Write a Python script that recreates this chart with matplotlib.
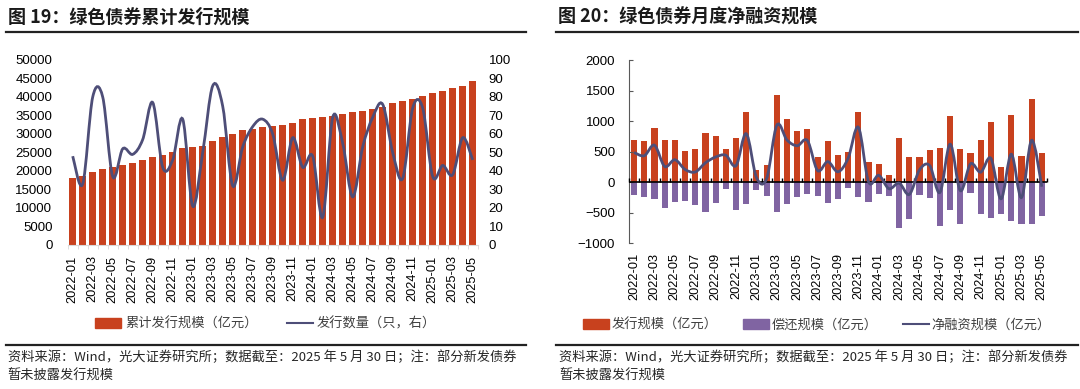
import matplotlib
matplotlib.use('Agg')
import matplotlib.pyplot as plt
import numpy as np
import pandas as pd
from matplotlib.path import Path
from matplotlib.patches import PathPatch, Patch
from matplotlib.lines import Line2D

plt.rcParams['font.family'] = ['Liberation Sans', 'Noto Sans CJK SC']
CJK = ['Noto Sans CJK SC', 'DejaVu Sans']

RED = '#C8411E'
PURPLE = '#8064A2'
LINE = '#4E4E78'

months = [p.strftime('%Y-%m') for p in pd.period_range('2022-01', '2025-05', freq='M')]

# 图19: 累计发行规模(亿元) / 发行数量(只)
cum_issue = [18200, 18600, 19800, 20500, 21000, 21500, 22200, 23000, 23800, 24300,
             25000, 26300, 26500, 26800, 28200, 29200, 30100, 31000, 31300, 32000,
             32200, 32300, 32900, 34000, 34300, 34600, 34800, 35400, 35900, 36200,
             36800, 37300, 38500, 39000, 39500, 40300, 41200, 41500, 42400, 43100, 44400]
issue_count = [48, 33, 80, 80, 37, 52, 49, 57, 77, 42, 46, 68, 21, 50, 86, 75, 32, 53, 64, 68,
               60, 35, 58, 42, 48, 15, 69, 55, 26, 53, 69, 76, 50, 36, 74, 74, 37, 43, 38, 58, 46]

# 图20: 发行 / 偿还 / 净融资(亿元)
issue = [695, 675, 885, 685, 685, 510, 540, 800, 752, 550, 725, 1150, 205, 288, 1425, 1040,
         832, 870, 418, 678, 445, 492, 1142, 323, 301, 118, 728, 408, 418, 524, 557, 1077,
         549, 476, 686, 981, 254, 1098, 437, 1366, 476]
repay = [-208, -241, -279, -427, -317, -301, -372, -482, -339, -109, -454, -356, -126, -230,
         -493, -350, -235, -188, -227, -341, -274, -99, -243, -317, -188, -224, -743, -607,
         -215, -252, -724, -454, -686, -175, -522, -590, -525, -640, -688, -680, -550]
net = [487, 434, 606, 258, 368, 209, 168, 318, 413, 441, 271, 794, 79, 58, 932, 690, 597,
       682, 191, 337, 171, 393, 899, 6, 113, -106, -15, -199, 203, 272, -167, 623, -137, 301,
       164, 391, -271, 458, -251, 686, -74]


def smooth_line(xs, ys, **kw):
    # excel style smoothed line (bezier through every point)
    n = len(xs)
    verts = [(xs[0], ys[0])]
    codes = [Path.MOVETO]
    for i in range(n - 1):
        a = max(i - 1, 0)
        b = min(i + 2, n - 1)
        c1 = (xs[i] + (xs[i + 1] - xs[a]) / 6, ys[i] + (ys[i + 1] - ys[a]) / 6)
        c2 = (xs[i + 1] - (xs[b] - xs[i]) / 6, ys[i + 1] - (ys[b] - ys[i]) / 6)
        verts += [c1, c2, (xs[i + 1], ys[i + 1])]
        codes += [Path.CURVE4] * 3
    return PathPatch(Path(verts, codes), fill=False, **kw)


fig = plt.figure(figsize=(10.8, 3.89), dpi=100)
x = np.arange(len(months))

# ---- left chart
ax1 = fig.add_axes([0.0627, 0.3702, 0.3796, 0.4756])
ax1.bar(x, cum_issue, width=0.68, color=RED)
ax1.set_xlim(-0.5, len(x) - 0.5)
ax1.set_ylim(0, 50000)
ax1.set_yticks(range(0, 50001, 5000))
for s in ['top', 'left', 'right']:
    ax1.spines[s].set_visible(False)
ax1.spines['bottom'].set_color('#d9d9d9')
ax1.set_xticks(x[::2])
ax1.set_xticklabels(months[::2], rotation=90)
ax1.set_xticks(np.arange(-0.5, len(x), 1), minor=True)
ax1.tick_params(axis='x', which='major', length=0, pad=7.5, labelsize=9.2)
ax1.tick_params(axis='x', which='minor', length=3, color='#d9d9d9')
ax1.tick_params(axis='y', length=0, pad=11, labelsize=9.5)

ax1r = ax1.twinx()
ax1r.set_ylim(0, 100)
ax1r.set_yticks(range(0, 101, 10))
for s in ax1r.spines.values():
    s.set_visible(False)
ax1r.tick_params(axis='y', length=0, pad=8, labelsize=9.5)
ax1r.add_patch(smooth_line(x, issue_count, color=LINE, lw=2.0, zorder=3))

h1 = [Patch(color=RED), Line2D([], [], color=LINE, lw=1.5)]
fig.legend(h1, ['累计发行规模（亿元）', '发行数量（只，右）'], loc='center',
           bbox_to_anchor=(0.2458, 1 - 324 / 389), ncol=2, frameon=False,
           prop={'family': CJK, 'size': 9.5}, labelcolor='#404040',
           handlelength=2.0, handletextpad=0.3, columnspacing=2.2)

# ---- right chart
ax2 = fig.add_axes([0.5824, 0.3745, 0.387, 0.4712])
ax2.bar(x, issue, width=0.6, color=RED)
ax2.bar(x, repay, width=0.6, color=PURPLE)
ax2.add_patch(smooth_line(x, net, color=LINE, lw=2.0, zorder=5))
ax2.axhline(0, color='black', lw=1.2, zorder=4)
ax2.set_xlim(-0.5, len(x) - 0.5)
ax2.set_ylim(-1000, 2000)
ax2.set_yticks(range(-1000, 2001, 500))
for s in ['top', 'right', 'bottom']:
    ax2.spines[s].set_visible(False)
ax2.spines['left'].set_color('#595959')
ax2.tick_params(axis='y', direction='in', length=3, pad=10, color='#595959', labelsize=9.5)
ax2.set_xticks(x[::2])
ax2.set_xticklabels(months[::2], rotation=90)
ax2.tick_params(axis='x', which='major', length=0, pad=7, labelsize=9.2)

sec = ax2.secondary_xaxis(0, transform=ax2.transData)
sec.spines['bottom'].set_visible(False)
sec.set_xticks(np.arange(-0.5, len(x), 1))
sec.set_xticklabels([])
sec.tick_params(direction='in', length=3, color='black', width=1)
sec.set_zorder(4)

h2 = [Patch(color=RED), Patch(color=PURPLE), Line2D([], [], color=LINE, lw=1.5)]
fig.legend(h2, ['发行规模（亿元）', '偿还规模（亿元）', '净融资规模（亿元）'], loc='center',
           bbox_to_anchor=(0.7563, 1 - 325 / 389), ncol=3, frameon=False,
           prop={'family': CJK, 'size': 9.5}, labelcolor='#404040',
           handlelength=2.0, handletextpad=0.2, columnspacing=1.9)

# ---- titles, rules and notes
fig.text(7.5 / 1080, 1 - 17 / 389, '图 19：绿色债券累计发行规模', family=CJK,
         fontsize=13, fontweight='bold', va='center', color='#1a1a1a')
fig.text(558 / 1080, 1 - 17 / 389, '图 20：绿色债券月度净融资规模', family=CJK,
         fontsize=13, fontweight='bold', va='center', color='#1a1a1a')
for x0, x1 in [(6, 526), (556, 1078)]:
    fig.add_artist(Line2D([x0 / 1080, x1 / 1080], [1 - 32 / 389] * 2, color='#222222', lw=1.6))
    fig.add_artist(Line2D([x0 / 1080, x1 / 1080], [1 - 345 / 389] * 2, color='#222222', lw=1.6))

note1 = '资料来源：Wind，光大证券研究所；数据截至：2025 年 5 月 30 日；注：部分新发债券'
note2 = '暂未披露发行规模'
for x0 in [7.5, 559]:
    fig.text(x0 / 1080, 1 - 357 / 389, note1, family=CJK, fontsize=9.5, va='center', color='#262626')
    fig.text(x0 / 1080, 1 - 376 / 389, note2, family=CJK, fontsize=9.5, va='center', color='#262626')

fig.savefig('out.png', dpi=100)
